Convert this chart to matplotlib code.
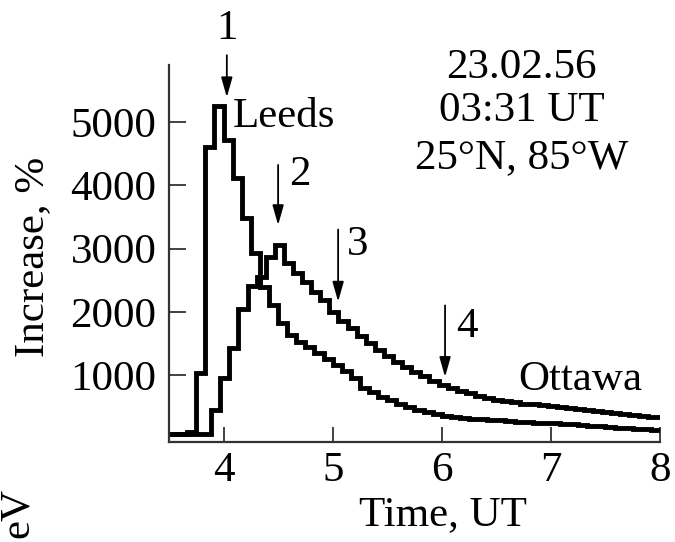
import numpy as np
import matplotlib
matplotlib.use("Agg")
import matplotlib.pyplot as plt

# ---- data (5-minute steps) ----
step_h = 5.0 / 60.0
leeds_start = 3.5
leeds_values = [70, 70, 100, 1030, 4600, 5250, 4710, 4110, 3480, 2930,
                2390, 2100, 1820, 1630, 1530, 1440, 1350, 1260, 1160, 1060,
                960, 800, 730, 660, 600, 540, 490, 450, 420, 390,
                360, 340, 325, 310, 300, 290, 285, 275, 265, 260,
                250, 245, 240, 230, 220, 210, 200, 190, 180, 170,
                160, 150, 140, 130]
ottawa_start = 3.47
ottawa_values = [70, 70, 70, 70, 70, 450, 950, 1430, 2050, 2400,
                 2550, 2870, 3050, 2770, 2620, 2470, 2320, 2180, 1990, 1860,
                 1740, 1620, 1500, 1400, 1300, 1200, 1120, 1050, 980, 910,
                 850, 800, 750, 710, 670, 640, 610, 590, 570, 550,
                 535, 520, 505, 490, 475, 460, 445, 430, 415, 400,
                 385, 370, 355, 340, 330]
t_end = 8.0

x_ticks = [4, 5, 6, 7, 8]
y_ticks = [1000, 2000, 3000, 4000, 5000]

# arrows: (time, tail value, tip value, label, label time, label value)
arrow_times = [4.03, 4.50, 5.05, 6.03]
arrow_tails = [6055, 4320, 3300, 2100]
arrow_tips = [5390, 3370, 2160, 970]
arrow_labels = ["1", "2", "3", "4"]
label_times = [4.03, 4.70, 5.23, 6.23]
label_values = [6480, 4160, 3060, 1760]

header_lines = ["23.02.56", "03:31 UT", "25\u00b0N, 85\u00b0W"]
header_time = 6.73
header_values = [5860, 5170, 4440]

plt.rcParams['font.family'] = ['Liberation Serif', 'DejaVu Serif']
FS = 31

fig = plt.figure(figsize=(6.75, 5.42), dpi=100)
ax = fig.add_axes([169/675, 1-442/542, (660-169)/675, (442-65)/542])


def series_xy(start, values):
    t = start + step_h * np.arange(len(values))
    t = np.append(t, t_end)
    v = np.append(values, values[-1])
    return t, v


for start, vals in [(leeds_start, leeds_values), (ottawa_start, ottawa_values)]:
    t, v = series_xy(start, vals)
    ax.step(t, v, where='post', color='black', lw=3.5, solid_joinstyle='miter')

ax.set_xlim(3.5, 8.0)
ax.set_ylim(-58, 5900)
ax.set_xticks(x_ticks)
ax.set_yticks(y_ticks)
ax.tick_params(axis='x', direction='in', length=11, width=1.3, pad=7,
               labelsize=FS, colors='#333333', labelcolor='black')
ax.tick_params(axis='y', direction='in', length=12, width=1.3, pad=9,
               labelsize=FS, colors='#333333', labelcolor='black')
for s in ['top', 'right']:
    ax.spines[s].set_visible(False)
for s in ['left', 'bottom']:
    ax.spines[s].set_linewidth(1.6)
    ax.spines[s].set_color('#333333')

for at, tail, tip, lab, lt, lv in zip(arrow_times, arrow_tails, arrow_tips,
                                      arrow_labels, label_times, label_values):
    ax.annotate('', xy=(at, tip), xytext=(at, tail), annotation_clip=False,
                arrowprops=dict(arrowstyle='-|>,head_length=0.6,head_width=0.17',
                                mutation_scale=20, color='black', lw=1.3,
                                shrinkA=0, shrinkB=0))
    ax.text(lt, lv, lab, fontsize=FS, ha='center', va='center', clip_on=False)

ax.text(4.08, 5080, "Leeds", fontsize=FS, ha='left', va='center')
ax.text(7.27, 920, "Ottawa", fontsize=FS, ha='center', va='center')
for line, hv in zip(header_lines, header_values):
    ax.text(header_time, hv, line, fontsize=FS, ha='center', va='center', clip_on=False)

fig.text(33/675, 1-257/542, "Increase, %", fontsize=FS, rotation=90, ha='center', va='center')
fig.text(443/675, 1-515/542, "Time, UT", fontsize=FS, ha='center', va='center')
fig.text(18/675, 1-513/542, "eV", fontsize=FS, rotation=90, ha='center', va='center')

fig.savefig("out.png", dpi=100)
